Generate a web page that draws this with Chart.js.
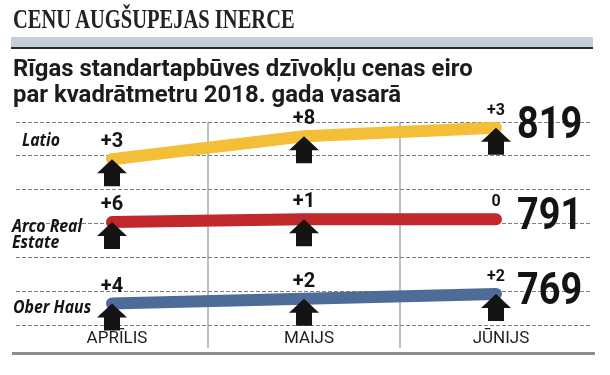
<!DOCTYPE html>
<html>
<head>
<meta charset="utf-8">
<script src="https://cdn.jsdelivr.net/npm/chart.js@4.4.1/dist/chart.umd.min.js"></script>
<style>
  html, body { margin: 0; padding: 0; background: #fff; }
  #wrap { position: relative; width: 610px; height: 375px; overflow: hidden; }
  #chart { position: absolute; left: 0; top: 0; }
  .t { position: absolute; white-space: nowrap; transform-origin: 0 0; color: #1c1c1c; }
  #title { left: 13px; top: 4px; font: bold 27px "Liberation Serif"; color: #222; }
  #band { position: absolute; left: 11px; top: 37px; width: 582px; height: 10px; background: #c6cfd7; border-bottom: 2px solid #2a2a2a; }
  #sub1 { left: 13px; top: 54px; font: bold 24px Roboto; }
  #sub2 { left: 13px; top: 80px; font: bold 24px Roboto; }
  #base { position: absolute; left: 12px; top: 352px; width: 583px; height: 3px; background: #8e8e8e; }
</style>
</head>
<body>
<div id="wrap">
  <canvas id="chart" width="610" height="375"></canvas>
  <div class="t" id="title">CENU AUGŠUPEJAS INERCE</div>
  <div id="band"></div>
  <div class="t" id="sub1">Rīgas standartapbūves dzīvokļu cenas eiro</div>
  <div class="t" id="sub2">par kvadrātmetru 2018. gada vasarā</div>
  <div id="base"></div>
</div>
<script>
// data
const months = ['APRĪLIS', 'MAIJS', 'JŪNIJS'];
const seriesNames = [['Latio'], ['Arco Real', 'Estate'], ['Ober Haus']];
const latio = [808, 816, 819];
const arco = [790, 791, 791];
const ober = [765, 767, 769];
const latioChange = [3, 8, 3];
const arcoChange = [6, 1, 0];
const oberChange = [4, 2, 2];

// squeeze the headline texts to the narrow newspaper widths
function fit(id, w) {
  const el = document.getElementById(id);
  const s = w / el.offsetWidth;
  el.style.transform = 'scaleX(' + s + ')';
  return s;
}
fit('title', 282);
const s1 = fit('sub1', 460);
document.getElementById('sub2').style.transform = 'scaleX(' + s1 + ')';

function squeezeText(ctx, text, x, y, font, sx, align) {
  ctx.save();
  ctx.font = font;
  const w = ctx.measureText(text).width * sx;
  let left = x;
  if (align === 'center') left = x - w / 2;
  ctx.translate(left, y);
  ctx.scale(sx, 1);
  ctx.textAlign = 'left';
  ctx.fillText(text, 0, 0);
  ctx.restore();
}

function arrow(ctx, x, y) {
  ctx.beginPath();
  ctx.moveTo(x, y);
  ctx.lineTo(x + 15, y + 14);
  ctx.lineTo(x + 8, y + 14);
  ctx.lineTo(x + 8, y + 27);
  ctx.lineTo(x - 8, y + 27);
  ctx.lineTo(x - 8, y + 14);
  ctx.lineTo(x - 15, y + 14);
  ctx.closePath();
  ctx.fill();
}

const nameStyle = [
  { x: 22, dy: [-13] },
  { x: 12, dy: [10, 26] },
  { x: 13, dy: [9] }
];

const annotations = {
  id: 'annotations',
  afterDatasetsDraw(chart) {
    const ctx = chart.ctx;
    ctx.fillStyle = '#141414';
    chart.data.datasets.forEach((ds, i) => {
      const pts = chart.getDatasetMeta(i).data;
      pts.forEach((p, j) => {
        const ch = ds.change[j];
        const last = j === pts.length - 1;
        if (ch > 0) arrow(ctx, p.x, p.y);
        const txt = ch > 0 ? '+' + ch : String(ch);
        ctx.textBaseline = 'middle';
        squeezeText(ctx, txt, p.x, p.y - 17, 'bold ' + (last ? 16 : 20) + 'px Roboto', 1, 'center');
      });
      const lp = pts[pts.length - 1];
      ctx.textBaseline = 'middle';
      squeezeText(ctx, String(ds.data[ds.data.length - 1]), lp.x + 21, lp.y - 1, 'bold 44px Roboto', 0.86, 'left');
      const fp = pts[0];
      ctx.textBaseline = 'alphabetic';
      seriesNames[i].forEach((line, k) => {
        squeezeText(ctx, line, nameStyle[i].x, fp.y + nameStyle[i].dy[k], 'italic bold 18px "Open Sans"', 0.88, 'left');
      });
    });
  }
};

new Chart(document.getElementById('chart'), {
  type: 'line',
  data: {
    labels: months,
    datasets: [
      { label: 'Latio', data: latio, change: latioChange, yAxisID: 'yLatio', borderColor: '#f3be38' },
      { label: 'Arco Real Estate', data: arco, change: arcoChange, yAxisID: 'yArco', borderColor: '#c0282c' },
      { label: 'Ober Haus', data: ober, change: oberChange, yAxisID: 'yOber', borderColor: '#4d6c98' }
    ].map(d => Object.assign(d, {
      borderWidth: 12, borderCapStyle: 'round', borderJoinStyle: 'round',
      pointRadius: 0, tension: 0, clip: false
    }))
  },
  options: {
    responsive: false,
    animation: false,
    devicePixelRatio: 1,
    layout: { padding: { top: 122, left: 16, right: 18, bottom: 20 } },
    plugins: { legend: { display: false }, tooltip: { enabled: false } },
    scales: {
      x: {
        offset: true,
        border: { display: false },
        grid: {
          offset: true,
          tickLength: 23,
          lineWidth: 2,
          color: c => (c.index === 1 || c.index === 2) ? '#b3c1cf' : 'rgba(0,0,0,0)'
        },
        ticks: { color: '#1e1e1e', font: { family: 'Roboto', size: 17 }, padding: -19, labelOffset: 5 },
        afterFit: s => { s.height = 30; }
      },
      yGrid: {
        position: 'left',
        min: 0, max: 6,
        ticks: { display: false, stepSize: 1 },
        grid: { drawTicks: false, color: '#7f7f7f', lineWidth: 1 },
        border: { display: false, dash: [4, 2] },
        afterFit: s => { s.width = 0; }
      },
      yLatio: { display: false, min: 750, max: 821 },
      yArco: { display: false, min: 754, max: 825 },
      yOber: { display: false, min: 756, max: 841 }
    }
  },
  plugins: [annotations]
});
</script>
</body>
</html>
